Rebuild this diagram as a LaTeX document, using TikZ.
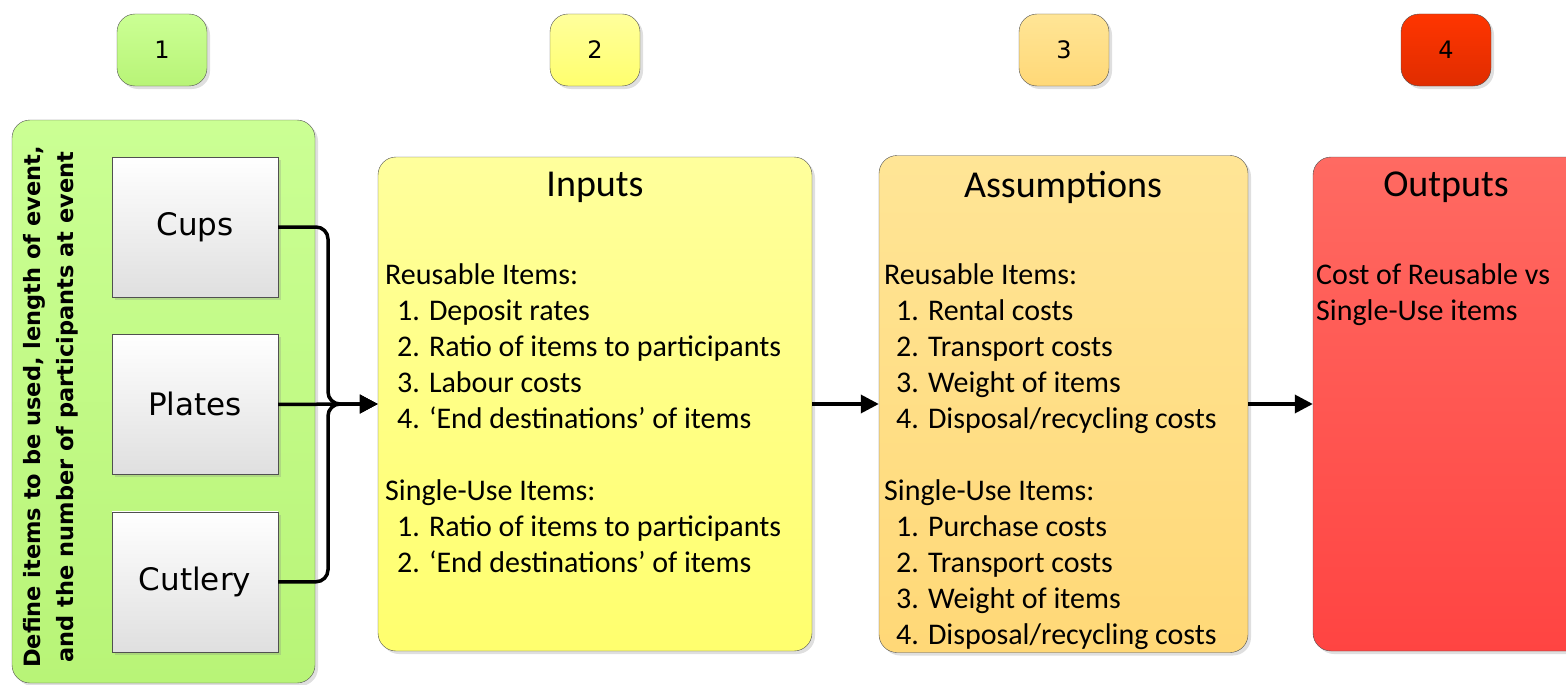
\documentclass[tikz,border=0pt]{standalone}
\usepackage{fontspec}
\setmainfont{Carlito}
\newfontfamily\dvfont{DejaVu Sans}
\usetikzlibrary{positioning,shadows,arrows.meta}
\definecolor{edge}{HTML}{505050}
\definecolor{grnA}{HTML}{CBFF94}
\definecolor{grnB}{HTML}{B8F477}
\definecolor{ylwA}{HTML}{FFFF9C}
\definecolor{ylwB}{HTML}{FFFF6E}
\definecolor{orgA}{HTML}{FFE596}
\definecolor{orgB}{HTML}{FFD877}
\definecolor{redA}{HTML}{FF3500}
\definecolor{redB}{HTML}{E02D00}
\definecolor{pnkA}{HTML}{FF6A62}
\definecolor{pnkB}{HTML}{FF4442}
\begin{document}
\begin{tikzpicture}[x=1pt, y=-1pt,
  shade/.style={drop shadow={shadow xshift=3pt, shadow yshift=-3pt, opacity=.25}},
  num/.style={draw=edge, rounded corners=18, minimum width=90, minimum height=72, font=\dvfont\fontsize{24}{28}\selectfont, shade},
  panel/.style={draw=edge, rounded corners=18, shade},
  item/.style={draw=edge, top color=white, bottom color=gray!25, minimum width=166, minimum height=140, font=\dvfont\fontsize{31}{36}\selectfont, shade},
  heading/.style={font=\fontsize{38}{44}\selectfont},
  list/.style={align=left, anchor=north west, inner sep=0, font=\fontsize{30}{36}\selectfont},
  link/.style={line width=3.5, -{Triangle[length=18pt,width=18pt]}}]
\useasboundingbox (0,0) rectangle (1566,685);
\clip (0,0) rectangle (1566,685);

\node[num, top color=grnA, bottom color=grnB] (n1) at (162,50) {1};
\node[num, top color=ylwA, bottom color=ylwB] (n2) at (595,50) {2};
\node[num, top color=orgA, bottom color=orgB] (n3) at (1064,50) {3};
\node[num, top color=redA, bottom color=redB] (n4) at (1446,50) {4};

\node[panel, top color=grnA, bottom color=grnB, minimum width=303, minimum height=563] (define) at (163.5,401.5) {};
\node[rotate=90, align=center, font=\dvfont\bfseries\fontsize{22.5}{33}\selectfont] (scope) at (51,407) {Define items to be used, length of event,\\and the number of participants at event};
\node[item] (cups) at (195,227) {Cups};
\node[item] (plates) [below=37pt of cups] {Plates};
\node[item] (cutlery) [below=37pt of plates] {Cutlery};

\node[panel, top color=ylwA, bottom color=ylwB, minimum width=434, minimum height=494] (inputs) at (595,404) {};
\node[heading] (intitle) at (595,187) {Inputs};
\node[list] (inlist) at (385,263) {Reusable Items:\\
\hspace*{12pt}1. Deposit rates\\
\hspace*{12pt}2. Ratio of items to participants\\
\hspace*{12pt}3. Labour costs\\
\hspace*{12pt}4. ‘End destinations’ of items\\[36pt]
Single-Use Items:\\
\hspace*{12pt}1. Ratio of items to participants\\
\hspace*{12pt}2. ‘End destinations’ of items};

\node[panel, top color=orgA, bottom color=orgB, minimum width=369, minimum height=497] (assump) at (1063.5,404) {};
\node[heading] (astitle) at (1063,187) {Assumptions};
\node[list] (aslist) at (884,263) {Reusable Items:\\
\hspace*{12pt}1. Rental costs\\
\hspace*{12pt}2. Transport costs\\
\hspace*{12pt}3. Weight of items\\
\hspace*{12pt}4. Disposal/recycling costs\\[36pt]
Single-Use Items:\\
\hspace*{12pt}1. Purchase costs\\
\hspace*{12pt}2. Transport costs\\
\hspace*{12pt}3. Weight of items\\
\hspace*{12pt}4. Disposal/recycling costs};

\node[panel, top color=pnkA, bottom color=pnkB, minimum width=300, minimum height=494] (outputs) at (1463,404) {};
\node[heading] (outtitle) at (1446,187) {Outputs};
\node[list] (outlist) at (1316,263) {Cost of Reusable vs\\Single-Use items};

\coordinate (merge) at (328,404);
\draw[link, rounded corners=12] (cups.east) -| (merge) -- (inputs.west);
\draw[link] (plates.east) -- (inputs.west);
\draw[link, rounded corners=12] (cutlery.east) -| (merge) -- (inputs.west);
\draw[link] (inputs.east) -- (assump.west);
\draw[link] (assump.east) -- (outputs.west);
\end{tikzpicture}
\end{document}
